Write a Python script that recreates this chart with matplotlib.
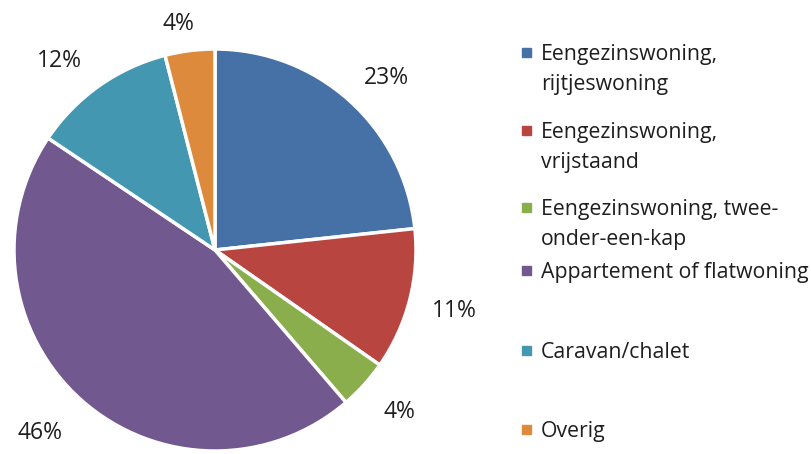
import numpy as np
import matplotlib.pyplot as plt
from matplotlib.patches import Rectangle

labels = [
    "Eengezinswoning,\nrijtjeswoning",
    "Eengezinswoning,\nvrijstaand",
    "Eengezinswoning, twee-\nonder-een-kap",
    "Appartement of flatwoning",
    "Caravan/chalet",
    "Overig",
]
values = [23.3, 11.4, 4.0, 45.7, 11.6, 4.0]
colors = ["#4571a7", "#b8453f", "#8aae4c", "#71588f", "#4397b0", "#dd8a3c"]

# label placement per slice: distance (radii) and angle nudge (deg)
label_dist = [1.21, 1.23, 1.22, 1.26, 1.22, 1.14]
label_turn = [-2.9, 0.0, 0.9, -2.1, 4.2, 1.9]
# legend baselines (px from top)
legend_y = [60, 138, 215, 278, 358, 437]

W, H = 811, 454
plt.rcParams['font.family'] = ['Open Sans', 'DejaVu Sans']

fig = plt.figure(figsize=(W / 100, H / 100), dpi=100)
cx, cy, r = 215, 250, 201
ax = fig.add_axes([(cx - r) / W, (H - cy - r) / H, 2 * r / W, 2 * r / H])

wedges, texts, autotexts = ax.pie(
    values, colors=colors, startangle=90, counterclock=False,
    autopct='%.0f%%', pctdistance=1.22,
    wedgeprops=dict(edgecolor='white', linewidth=2.5),
    textprops=dict(fontsize=16.5, color='#1e1e1e'),
)
for w, t, d, turn in zip(wedges, autotexts, label_dist, label_turn):
    mid = np.deg2rad((w.theta1 + w.theta2) / 2 + turn)
    t.set_position((d * np.cos(mid), d * np.sin(mid)))

ax.set_xlim(-1, 1)
ax.set_ylim(-1, 1)
ax.set_aspect('equal')
ax.axis('off')

for lab, col, yb in zip(labels, colors, legend_y):
    fig.patches.append(Rectangle((522 / W, 1 - (yb - 3) / H), 9 / W, 9 / H,
                                 transform=fig.transFigure, color=col))
    for k, line in enumerate(lab.split('\n')):
        fig.text(541 / W, 1 - (yb + 30 * k) / H, line, fontsize=15.3,
                 color='#1e1e1e', va='baseline', ha='left')

fig.savefig('out.png', dpi=100)
